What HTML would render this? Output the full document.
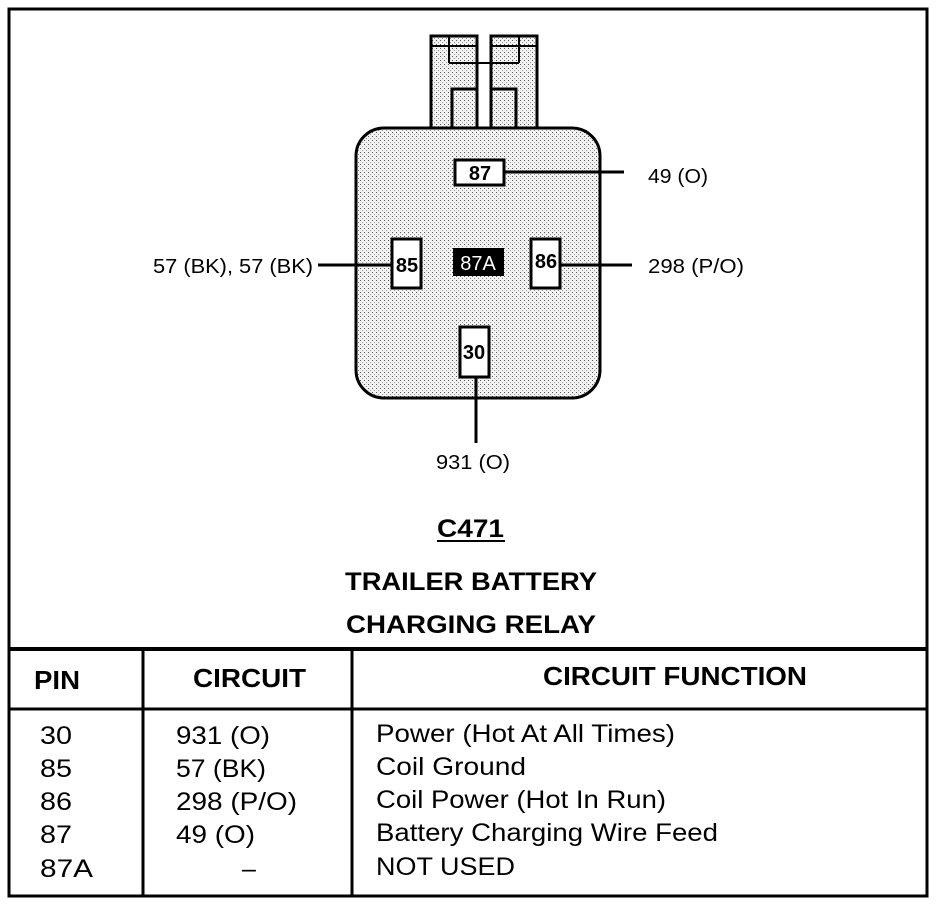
<!DOCTYPE html>
<html><head><meta charset="utf-8"><style>
body{margin:0;background:#fff;}
svg{display:block;font-family:"Liberation Sans",Arial,sans-serif;}
</style></head><body>
<svg width="944" height="904" viewBox="0 0 944 904">
<defs>
<pattern id="dots" width="4" height="4" patternUnits="userSpaceOnUse">
<rect width="4" height="4" fill="#f2f2f2"/><rect x="0" y="0" width="1" height="1" fill="#555"/><rect x="2" y="2" width="1" height="1" fill="#999"/>
</pattern>
</defs>
<rect x="9" y="9" width="918" height="887" fill="none" stroke="#000" stroke-width="3"/>
<!-- connector -->
<rect x="431" y="36" width="46" height="92" fill="url(#dots)" stroke="#000" stroke-width="3"/>
<rect x="491" y="36" width="46" height="92" fill="url(#dots)" stroke="#000" stroke-width="3"/>
<line x1="431" y1="46" x2="477" y2="46" stroke="#000" stroke-width="2"/>
<line x1="491" y1="46" x2="537" y2="46" stroke="#000" stroke-width="2"/>
<line x1="449" y1="36" x2="449" y2="63" stroke="#000" stroke-width="2"/>
<line x1="519" y1="36" x2="519" y2="63" stroke="#000" stroke-width="2"/>
<line x1="449" y1="63" x2="519" y2="63" stroke="#000" stroke-width="2"/>
<polyline points="452,128 452,89 477,89" fill="none" stroke="#000" stroke-width="3"/>
<polyline points="516,128 516,89 491,89" fill="none" stroke="#000" stroke-width="3"/>
<!-- body -->
<rect x="356" y="128" width="244" height="270" rx="28" fill="url(#dots)" stroke="#000" stroke-width="3"/>
<!-- pins -->
<line x1="504" y1="172" x2="624" y2="172" stroke="#000" stroke-width="3"/>
<rect x="455" y="160" width="49" height="25" fill="#fff" stroke="#000" stroke-width="3"/>
<text x="480" y="180" font-size="20" font-weight="bold" text-anchor="middle">87</text>
<text x="648" y="183" font-size="20" textLength="60" lengthAdjust="spacingAndGlyphs">49 (O)</text>
<line x1="318" y1="265" x2="392" y2="265" stroke="#000" stroke-width="3"/>
<rect x="392" y="239" width="29" height="49" fill="#fff" stroke="#000" stroke-width="3"/>
<text x="407" y="272" font-size="20" font-weight="bold" text-anchor="middle">85</text>
<text x="153" y="273" font-size="20" textLength="160" lengthAdjust="spacingAndGlyphs">57 (BK), 57 (BK)</text>
<rect x="453" y="248" width="51" height="28" fill="#000"/>
<text x="478" y="270" font-size="20" fill="#fff" text-anchor="middle">87A</text>
<line x1="560" y1="265" x2="632" y2="265" stroke="#000" stroke-width="3"/>
<rect x="531" y="239" width="29" height="49" fill="#fff" stroke="#000" stroke-width="3"/>
<text x="546" y="268" font-size="20" font-weight="bold" text-anchor="middle">86</text>
<text x="648" y="273" font-size="20" textLength="96" lengthAdjust="spacingAndGlyphs">298 (P/O)</text>
<line x1="476" y1="377" x2="476" y2="443" stroke="#000" stroke-width="3"/>
<rect x="460" y="327" width="29" height="50" fill="#fff" stroke="#000" stroke-width="3"/>
<text x="474" y="359" font-size="20" font-weight="bold" text-anchor="middle">30</text>
<text x="436" y="469" font-size="20" textLength="74" lengthAdjust="spacingAndGlyphs">931 (O)</text>
<!-- titles -->
<text x="437" y="537" font-size="25" font-weight="bold" textLength="67" lengthAdjust="spacingAndGlyphs">C471</text>
<line x1="437" y1="541" x2="505" y2="541" stroke="#000" stroke-width="2"/>
<text x="345" y="590" font-size="25" font-weight="bold" textLength="252" lengthAdjust="spacingAndGlyphs">TRAILER BATTERY</text>
<text x="346" y="633" font-size="25" font-weight="bold" textLength="250" lengthAdjust="spacingAndGlyphs">CHARGING RELAY</text>
<!-- table -->
<line x1="9" y1="649" x2="927" y2="649" stroke="#000" stroke-width="4"/>
<line x1="9" y1="709" x2="927" y2="709" stroke="#000" stroke-width="3"/>
<line x1="143" y1="649" x2="143" y2="896" stroke="#000" stroke-width="3"/>
<line x1="352" y1="649" x2="352" y2="896" stroke="#000" stroke-width="3"/>
<text x="34" y="689" font-size="26" font-weight="bold" textLength="46" lengthAdjust="spacingAndGlyphs">PIN</text>
<text x="193" y="687" font-size="26" font-weight="bold" textLength="113" lengthAdjust="spacingAndGlyphs">CIRCUIT</text>
<text x="543" y="685" font-size="26" font-weight="bold" textLength="264" lengthAdjust="spacingAndGlyphs">CIRCUIT FUNCTION</text>
<g font-size="25">
<text x="40" y="744" textLength="32" lengthAdjust="spacingAndGlyphs">30</text><text x="176" y="744" textLength="94" lengthAdjust="spacingAndGlyphs">931 (O)</text><text x="376" y="742" textLength="299" lengthAdjust="spacingAndGlyphs">Power (Hot At All Times)</text>
<text x="40" y="777" textLength="32" lengthAdjust="spacingAndGlyphs">85</text><text x="176" y="777" textLength="90" lengthAdjust="spacingAndGlyphs">57 (BK)</text><text x="376" y="775" textLength="150" lengthAdjust="spacingAndGlyphs">Coil Ground</text>
<text x="40" y="810" textLength="32" lengthAdjust="spacingAndGlyphs">86</text><text x="176" y="810" textLength="121" lengthAdjust="spacingAndGlyphs">298 (P/O)</text><text x="376" y="808" textLength="290" lengthAdjust="spacingAndGlyphs">Coil Power (Hot In Run)</text>
<text x="40" y="843" textLength="32" lengthAdjust="spacingAndGlyphs">87</text><text x="176" y="843" textLength="79" lengthAdjust="spacingAndGlyphs">49 (O)</text><text x="376" y="841" textLength="342" lengthAdjust="spacingAndGlyphs">Battery Charging Wire Feed</text>
<text x="40" y="877" textLength="53" lengthAdjust="spacingAndGlyphs">87A</text><text x="249" y="877" text-anchor="middle">–</text><text x="376" y="875" textLength="139" lengthAdjust="spacingAndGlyphs">NOT USED</text>
</g>
</svg>
</body></html>
